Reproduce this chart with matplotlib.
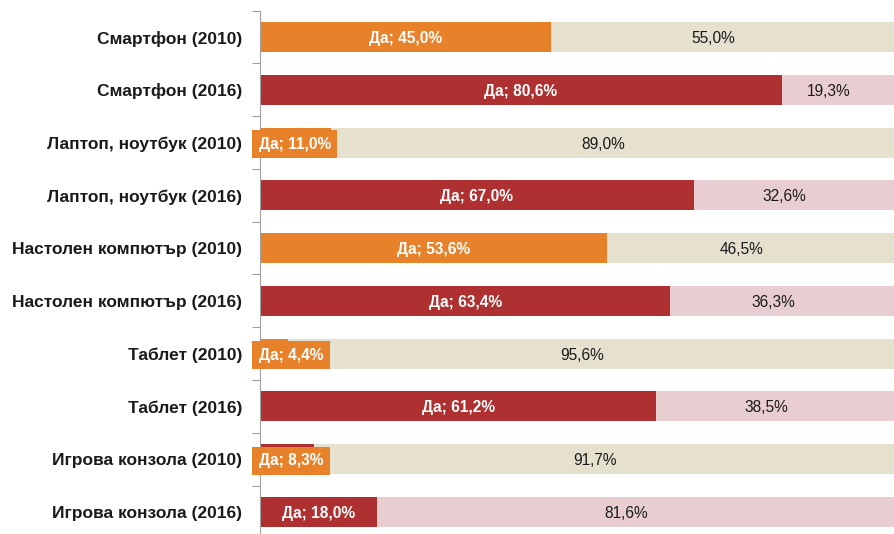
import numpy as np
import matplotlib
matplotlib.use('Agg')
import matplotlib.pyplot as plt

plt.rcParams['font.family'] = ['Liberation Sans', 'DejaVu Sans']

categories = ["Смартфон (2010)", "Смартфон (2016)",
              "Лаптоп, ноутбук (2010)", "Лаптоп, ноутбук (2016)",
              "Настолен компютър (2010)", "Настолен компютър (2016)",
              "Таблет (2010)", "Таблет (2016)",
              "Игрова конзола (2010)", "Игрова конзола (2016)"]
yes_vals = [45.0, 80.6, 11.0, 67.0, 53.6, 63.4, 4.4, 61.2, 8.3, 18.0]
no_vals = [55.0, 19.3, 89.0, 32.6, 46.5, 36.3, 95.6, 38.5, 91.7, 81.6]
years = [2010, 2016, 2010, 2016, 2010, 2016, 2010, 2016, 2010, 2016]

ORANGE = "#E8822A"
RED = "#AF3030"
BEIGE = "#E6E0CF"
PINK = "#E8CED0"

fig = plt.figure(figsize=(8.95, 5.34), dpi=100)
ax = fig.add_axes([0.2905, -0.008, 0.7095, 0.988])

y = np.arange(len(categories))
yes_colors = [ORANGE if yr == 2010 else RED for yr in years]
yes_colors[8] = RED  # game console 2010 drawn red in source
no_colors = [BEIGE if yr == 2010 else PINK for yr in years]

ax.barh(y, yes_vals, height=0.57, color=yes_colors)
ax.barh(y, no_vals, left=yes_vals, height=0.57, color=no_colors)

xmax = 98.1
ax.set_xlim(0, xmax)
ax.set_ylim(len(categories) - 0.5, -0.5)

for i, (yv, nv) in enumerate(zip(yes_vals, no_vals)):
    txt = f"Да; {yv:.1f}%".replace('.', ',')
    if yv < 15:
        ax.text(-0.2, i, txt, ha='left', va='center_baseline', color='white',
                fontsize=11.2, fontweight='bold', clip_on=False,
                bbox=dict(boxstyle='square,pad=0.42', fc=ORANGE, ec='none'))
    else:
        ax.text(yv / 2, i, txt, ha='center', va='center_baseline', color='white',
                fontsize=11.2, fontweight='bold')
    right = min(yv + nv, xmax)
    ax.text((yv + right) / 2 - 1.5, i, f"{nv:.1f}%".replace('.', ','),
            ha='center', va='center_baseline', color='#1a1a1a', fontsize=11.2)

ax.set_yticks(y)
ax.set_yticklabels(categories, fontsize=12.5, fontweight='bold', color='#1a1a1a',
                   va='center_baseline')
ax.tick_params(axis='y', which='major', length=0, pad=13)
ax.set_yticks(np.arange(-0.5, len(categories), 1), minor=True)
ax.tick_params(axis='y', which='minor', length=6, color='#a0a0a0', width=0.8)
ax.set_xticks([])

for s in ['top', 'right', 'bottom']:
    ax.spines[s].set_visible(False)
ax.spines['left'].set_color('#a0a0a0')
ax.spines['left'].set_linewidth(0.8)

plt.savefig("out.png", dpi=100)
plt.close()
